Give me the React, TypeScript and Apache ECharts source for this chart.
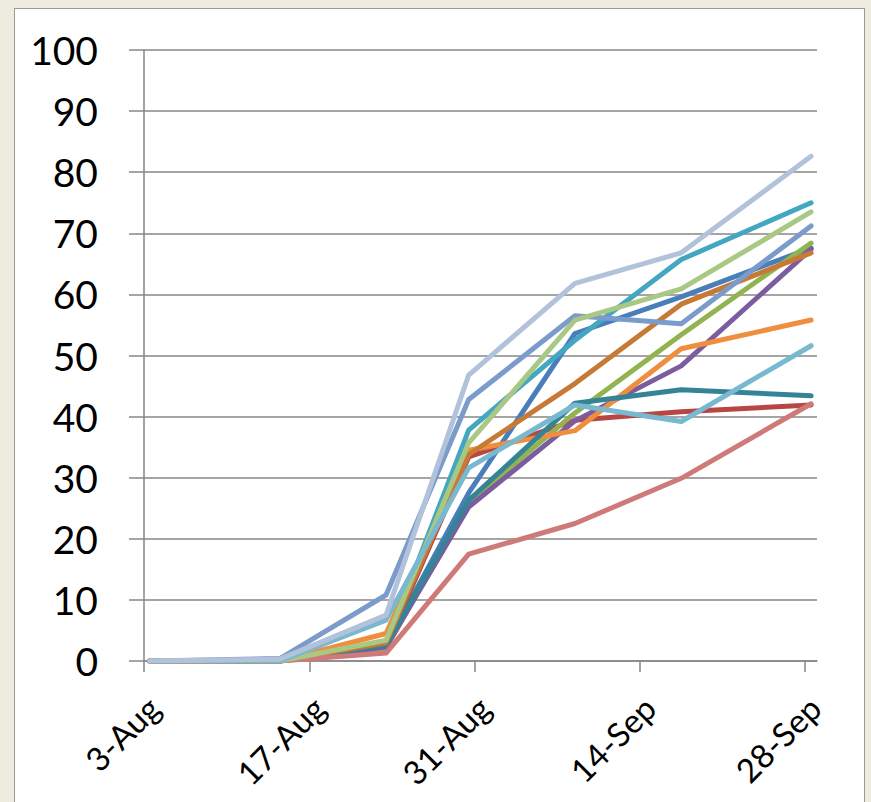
import React, { useEffect, useRef } from "react";
import * as echarts from "echarts";

// Observation dates (x values)
const dates = ["2015-08-03", "2015-08-14", "2015-08-23", "2015-08-30", "2015-09-08", "2015-09-17", "2015-09-28"];
// Tick label dates
const tickDates = ["2015-08-03", "2015-08-17", "2015-08-31", "2015-09-14", "2015-09-28"];
const yTicks = [0, 10, 20, 30, 40, 50, 60, 70, 80, 90, 100];

const seriesBlue = [0, 0, 2.6, 27.5, 53.6, 59.6, 67.6];
const seriesRed = [0, 0, 2.4, 33.4, 39.4, 40.8, 41.9];
const seriesGreen = [0, 0, 2.1, 26.0, 40.6, 53.4, 68.4];
const seriesPurple = [0, 0, 2.3, 25.2, 39.3, 48.3, 67.4];
const seriesAqua = [0, 0, 2.8, 37.8, 52.5, 65.7, 75.0];
const seriesOrange = [0, 0, 4.5, 34.5, 37.7, 51.1, 55.8];
const seriesDarkTeal = [0, 0, 2.6, 26.3, 42.2, 44.4, 43.4];
const seriesBrown = [0, 0, 3.0, 33.8, 45.4, 58.4, 66.8];
const seriesLavender = [0, 0.4, 10.8, 42.8, 56.5, 55.2, 71.2];
const seriesPink = [0, 0, 1.3, 17.5, 22.5, 29.9, 42.1];
const seriesLightGreen = [0, 0, 3.4, 35.7, 55.8, 60.9, 73.5];
const seriesLightAqua = [0, 0, 6.7, 31.6, 41.9, 39.2, 51.6];
const seriesLightSteel = [0, 0.3, 7.5, 46.8, 61.8, 66.8, 82.6];

const seriesList = [
  { name: "S1", values: seriesBlue, color: "#4A7EBB" },
  { name: "S2", values: seriesRed, color: "#B84744" },
  { name: "S3", values: seriesGreen, color: "#92B450" },
  { name: "S4", values: seriesPurple, color: "#7B5D9F" },
  { name: "S5", values: seriesAqua, color: "#43A7C1" },
  { name: "S6", values: seriesOrange, color: "#F08E3F" },
  { name: "S7", values: seriesDarkTeal, color: "#358396" },
  { name: "S8", values: seriesBrown, color: "#C67A35" },
  { name: "S9", values: seriesLavender, color: "#7B9BCB" },
  { name: "S10", values: seriesPink, color: "#CE7A78" },
  { name: "S11", values: seriesLightGreen, color: "#A9C884" },
  { name: "S12", values: seriesLightAqua, color: "#78B9CF" },
  { name: "S13", values: seriesLightSteel, color: "#B2C2DB" },
];

const MONTHS = ["Jan", "Feb", "Mar", "Apr", "May", "Jun", "Jul", "Aug", "Sep", "Oct", "Nov", "Dec"];
const DAY = 86400000;
const start = Date.parse(dates[0] + "T00:00:00Z");
const dayOffset = (s: string) => (Date.parse(s + "T00:00:00Z") - start) / DAY;
const fmt = (v: number) => {
  const d = new Date(start + Math.round(v) * DAY);
  return d.getUTCDate() + "-" + MONTHS[d.getUTCMonth()];
};
const tickValues = tickDates.map(dayOffset);
const axisMax = dayOffset("2015-09-29");
const LABEL_SHIFT = 0.8; // days: label anchor sits a little right of its tick

export default function App() {
  const ref = useRef<HTMLDivElement>(null);
  useEffect(() => {
    if (!ref.current) return;
    const chart = echarts.init(ref.current, undefined, { renderer: "svg" });
    const gray = "#878787";
    const font = "Lato, 'Noto Sans', sans-serif";
    chart.setOption({
      animation: false,
      grid: { left: 144, right: 54, top: 50, bottom: 141, containLabel: false },
      xAxis: [
        {
          type: "value",
          position: "bottom",
          min: 0,
          max: axisMax,
          interval: 14,
          axisLine: { show: true, lineStyle: { color: gray, width: 1.5 } },
          axisTick: { show: true, length: 11, lineStyle: { color: gray, width: 1.5 }, customValues: tickValues },
          splitLine: { show: false },
          axisLabel: { show: false },
        },
        {
          type: "value",
          position: "bottom",
          min: -LABEL_SHIFT,
          max: axisMax - LABEL_SHIFT,
          axisLine: { show: false },
          axisTick: { show: false },
          splitLine: { show: false },
          axisLabel: {
            customValues: tickValues,
            rotate: 45,
            margin: 41,
            fontSize: 33,
            fontFamily: font,
            color: "#000",
            formatter: (v: number) => fmt(v),
          },
        },
      ],
      yAxis: {
        type: "value",
        min: 0,
        max: 100,
        interval: 10,
        axisLine: { show: true, lineStyle: { color: gray, width: 1.5 } },
        axisTick: { show: true, length: 15, lineStyle: { color: gray, width: 1.5 } },
        splitLine: { show: true, lineStyle: { color: gray, width: 1.5 } },
        axisLabel: {
          margin: 46,
          fontSize: 39,
          fontFamily: font,
          color: "#000",
          customValues: yTicks,
        },
      },
      series: seriesList.map((s) => ({
        name: s.name,
        type: "line",
        xAxisIndex: 0,
        showSymbol: false,
        symbol: "none",
        data: s.values.map((v, i) => [dayOffset(dates[i]) + 0.5, v]),
        lineStyle: { color: s.color, width: 5, cap: "round", join: "round" },
        itemStyle: { color: s.color },
      })),
    });
    return () => chart.dispose();
  }, []);
  return (
    <div style={{ position: "fixed", left: 0, top: 0, width: 871, height: 802, background: "#EEECE1", overflow: "hidden" }}>
      <div
        style={{
          position: "absolute",
          left: 14,
          top: 8,
          width: 851,
          height: 820,
          background: "#fff",
          border: "1.5px solid #9A9A9A",
          boxSizing: "border-box",
        }}
      />
      <div ref={ref} style={{ position: "absolute", left: 0, top: 0, width: 871, height: 802 }} />
    </div>
  );
}
